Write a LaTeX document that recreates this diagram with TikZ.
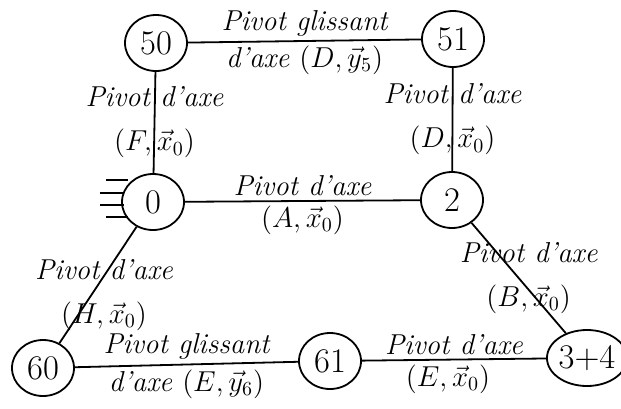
\documentclass[tikz,border=0pt]{standalone}
\usepackage{amsmath}
\usetikzlibrary{shapes.geometric}

\begin{document}
\begin{tikzpicture}[x=0.5pt, y=-0.5pt, line width=0.9pt,
	piece/.style = {draw, ellipse, minimum width=31pt, minimum height=28pt, inner sep=0pt, font=\LARGE},
	liaison/.style = {font=\Large\itshape, align=center, inner sep=2pt}]

	\useasboundingbox (0,0) rectangle (621,408);

	% classes d'equivalence
	\node [piece] (p50) at (156,43) {50};
	\node [piece] (p51) at (453,39) {51};
	\node [piece] (p0) at (153,202) {0};
	\node [piece] (p2) at (452,200) {2};
	\node [piece] (p60) at (43,368) {60};
	\node [piece] (p61) at (330,361) {61};
	\node [piece, minimum width=36pt] (p34) at (587,358) {3+4};

	% bati
	\foreach \y/\xa/\xb in {180/106/128, 193/100/124, 205/100/124, 217/106/128}
		\draw (\xa,\y) -- (\xb,\y);

	% liaisons
	\draw (p50) -- (p51)
		node [liaison, midway, above] {Pivot glissant}
		node [liaison, midway, below] {d'axe $(D,\vec{y}_5)$};
	\draw (p50) -- (p0)
		node [liaison, midway] {Pivot d'axe\\[4pt] $(F,\vec{x}_0)$};
	\draw (p51) -- (p2)
		node [liaison, midway] {Pivot d'axe\\[4pt] $(D,\vec{x}_0)$};
	\draw (p0) -- (p2)
		node [liaison, midway, above] {Pivot d'axe}
		node [liaison, midway, below] {$(A,\vec{x}_0)$};
	\draw (p0) -- (p60)
		node [liaison, midway, xshift=3pt, yshift=-5pt] {Pivot d'axe\\[4pt] $(H,\vec{x}_0)$};
	\draw (p2) -- (p34)
		node [liaison, midway, xshift=5pt] {Pivot d'axe\\[4pt] $(B,\vec{x}_0)$};
	\draw (p60) -- (p61)
		node [liaison, midway, above] {Pivot glissant}
		node [liaison, midway, below] {d'axe $(E,\vec{y}_6)$};
	\draw (p61) -- (p34)
		node [liaison, midway, above] {Pivot d'axe}
		node [liaison, midway, below, xshift=-3pt] {$(E,\vec{x}_0)$};
\end{tikzpicture}
\end{document}
